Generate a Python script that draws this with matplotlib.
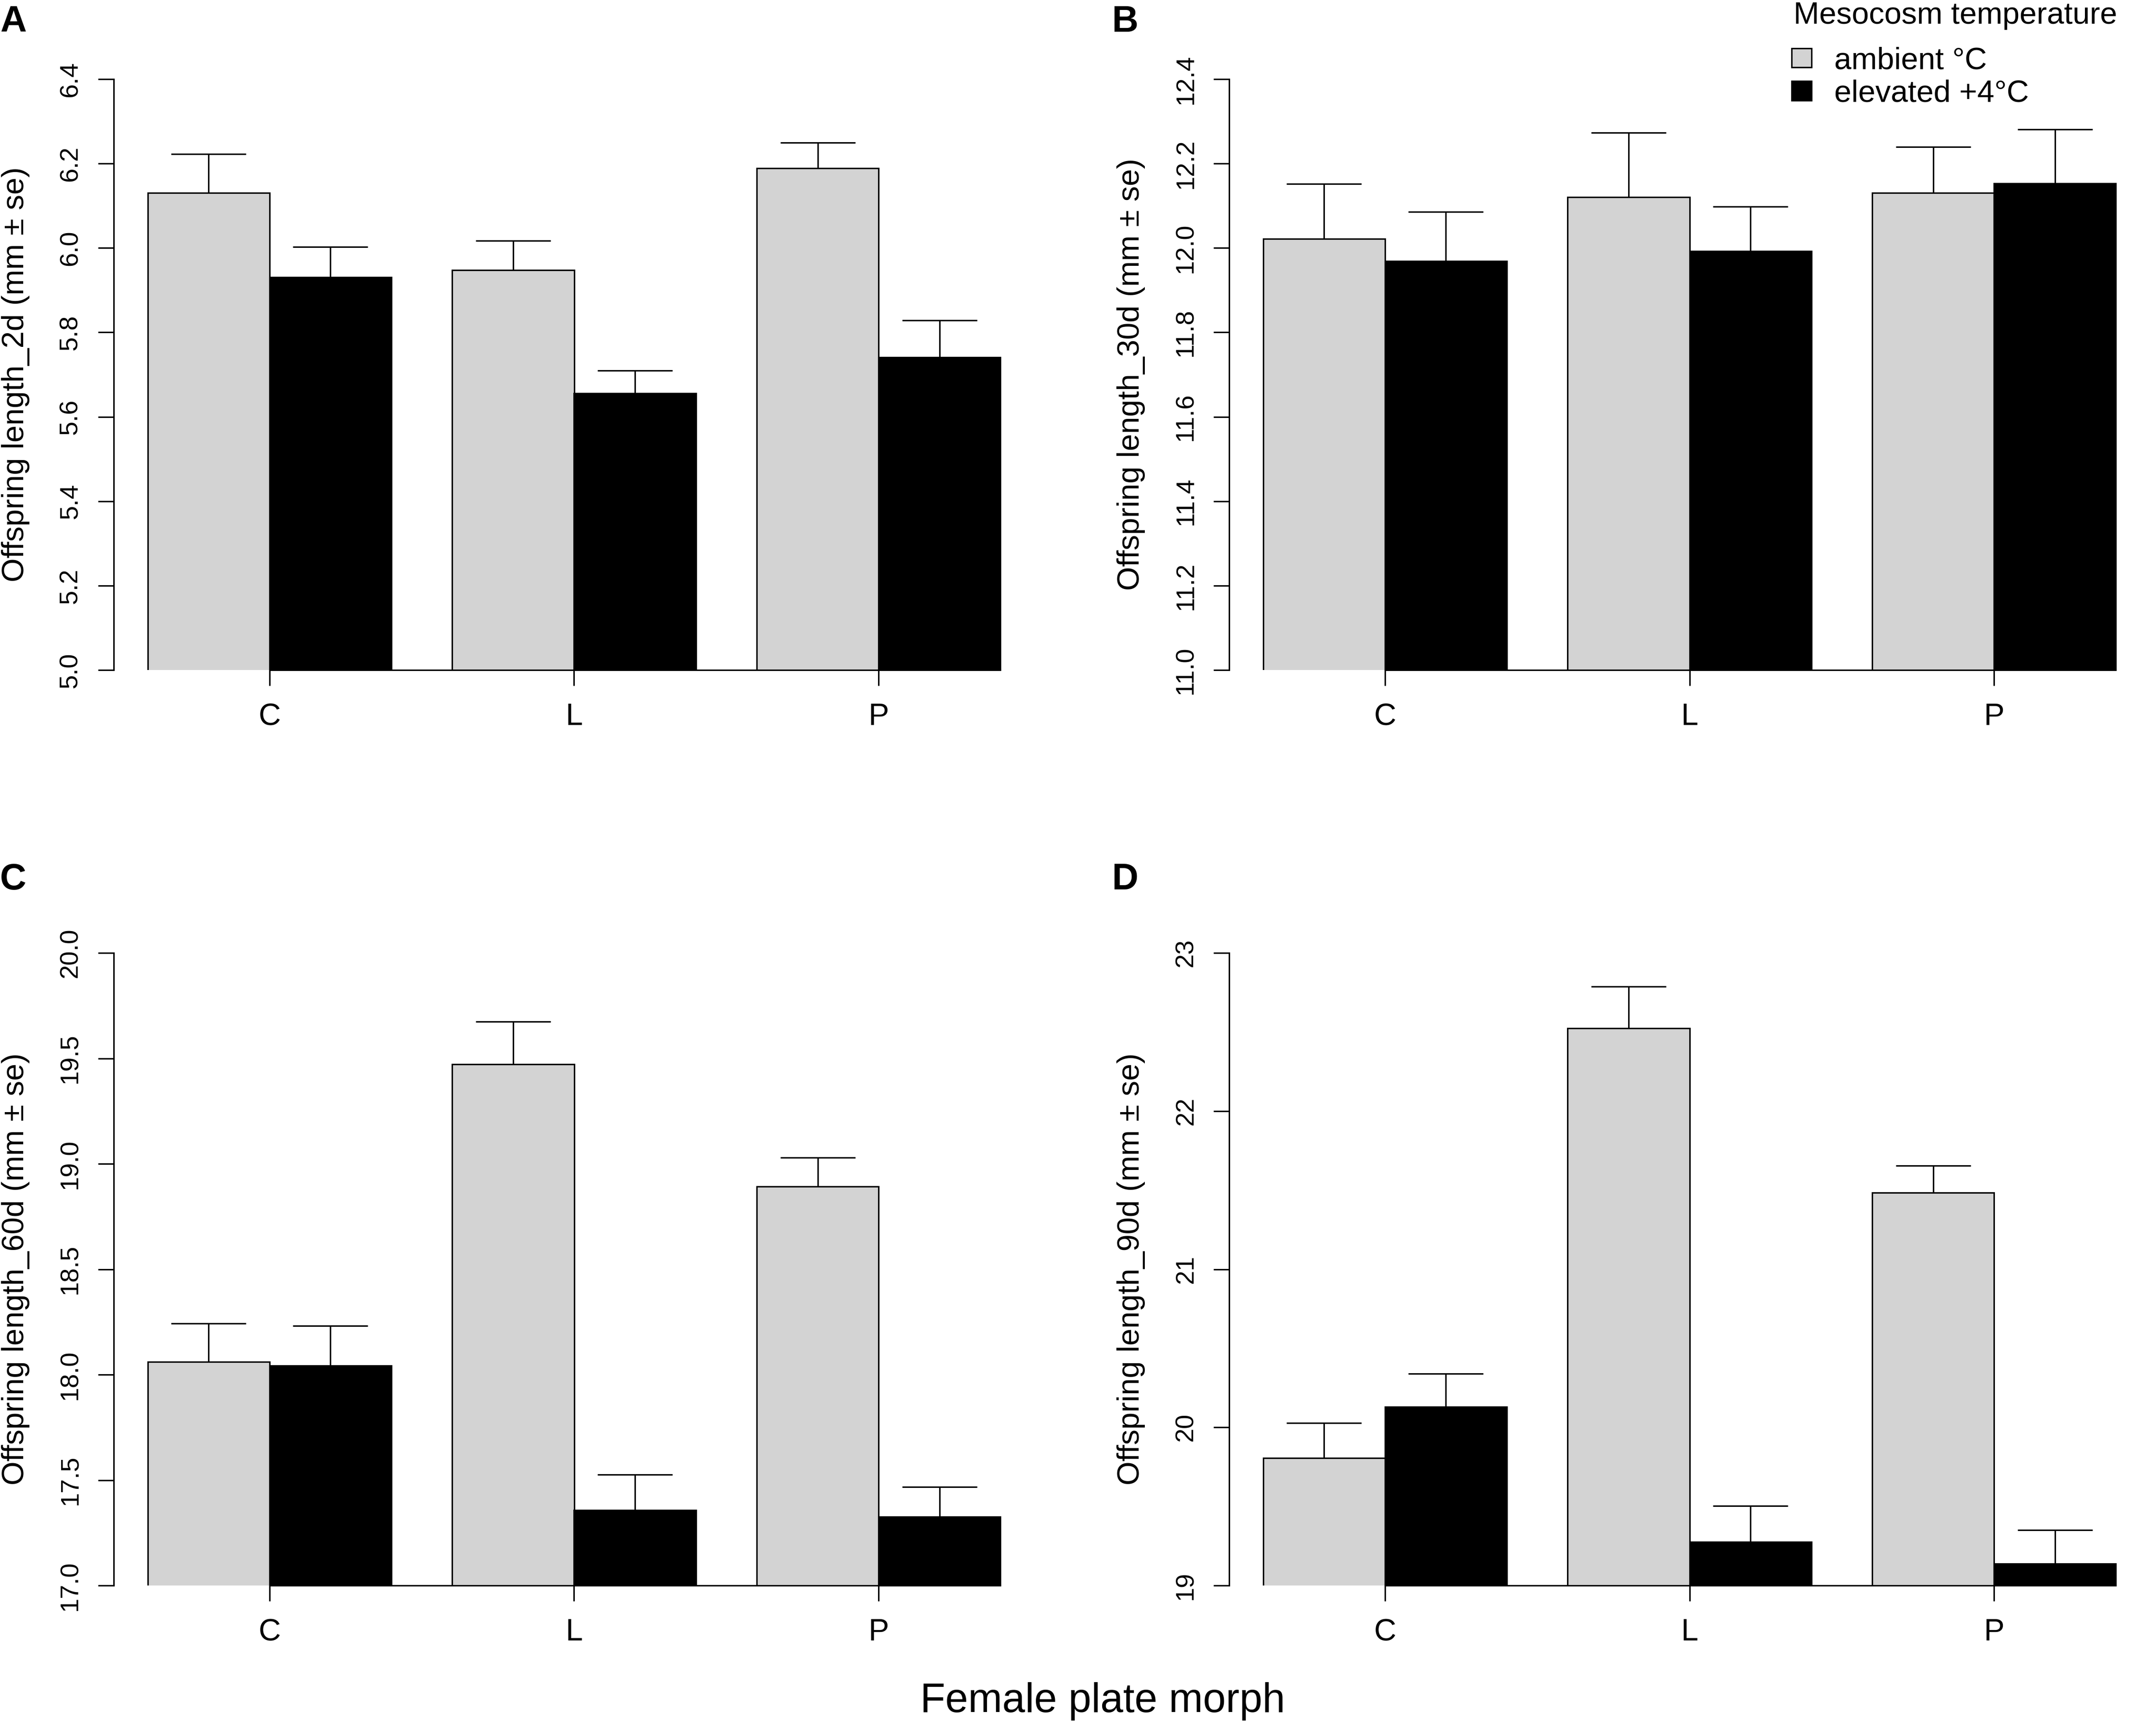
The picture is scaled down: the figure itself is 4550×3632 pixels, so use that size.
import numpy as np
import matplotlib
matplotlib.use("Agg")
import matplotlib.pyplot as plt
from matplotlib.patches import Patch

# ---- data (mean, se) ----
morphs = ["C", "L", "P"]
groups = ["ambient °C", "elevated +4°C"]

amb_2d = [6.131, 5.947, 6.189]
amb_2d_se = [0.092, 0.070, 0.060]
elev_2d = [5.931, 5.656, 5.741]
elev_2d_se = [0.072, 0.054, 0.088]

amb_30d = [12.022, 12.121, 12.131]
amb_30d_se = [0.130, 0.152, 0.108]
elev_30d = [11.969, 11.993, 12.153]
elev_30d_se = [0.117, 0.105, 0.128]

amb_60d = [18.061, 19.471, 18.892]
amb_60d_se = [0.181, 0.203, 0.137]
elev_60d = [18.042, 17.358, 17.326]
elev_60d_se = [0.190, 0.168, 0.142]

amb_90d = [19.807, 22.523, 21.484]
amb_90d_se = [0.221, 0.263, 0.172]
elev_90d = [20.130, 19.277, 19.137]
elev_90d_se = [0.210, 0.225, 0.214]

W, H, DPI = 4550, 3632, 300
plt.rcParams["font.family"] = ["Liberation Sans", "DejaVu Sans"]

fig = plt.figure(figsize=(W / DPI, H / DPI), dpi=DPI)


def px(x0, y0, x1, y1):
    # pixel box (top-left origin) -> figure fraction rect
    return [x0 / W, 1 - y1 / H, (x1 - x0) / W, (y1 - y0) / H]


AXW = 1943
panels = [
    (px(240, 167, 240 + AXW, 1414), amb_2d, amb_2d_se, elev_2d, elev_2d_se,
     (5.0, 6.4), np.arange(5.0, 6.41, 0.2), "{:.1f}", "Offspring length_2d (mm ± se)"),
    (px(2594, 167, 2594 + AXW, 1414), amb_30d, amb_30d_se, elev_30d, elev_30d_se,
     (11.0, 12.4), np.arange(11.0, 12.41, 0.2), "{:.1f}", "Offspring length_30d (mm ± se)"),
    (px(240, 2011, 240 + AXW, 3346), amb_60d, amb_60d_se, elev_60d, elev_60d_se,
     (17.0, 20.0), np.arange(17.0, 20.01, 0.5), "{:.1f}", "Offspring length_60d (mm ± se)"),
    (px(2594, 2011, 2594 + AXW, 3346), amb_90d, amb_90d_se, elev_90d, elev_90d_se,
     (19, 23), np.arange(19, 23.1, 1), "{:.0f}", "Offspring length_90d (mm ± se)"),
]

# R-style beside barplot, space = c(0, 0.5)
x_amb = np.array([1.0, 3.5, 6.0])
x_elev = x_amb + 1.0
x_tick = x_amb + 0.5
LW = 0.75

for rect, amb, amb_se, elev, elev_se, ylim, yt, fmt, ylab in panels:
    ax = fig.add_axes(rect)
    # bars start at 0 and get clipped by the axes, like R's barplot
    ax.bar(x_amb, amb, width=1.0, color="lightgray", edgecolor="black", linewidth=LW, zorder=2)
    ax.bar(x_elev, elev, width=1.0, color="black", edgecolor="black", linewidth=LW, zorder=2)
    for xs, m, s in ((x_amb, amb, amb_se), (x_elev, elev, elev_se)):
        _, caps, _ = ax.errorbar(xs, m, yerr=[np.zeros(3), s], fmt="none", ecolor="black",
                                 elinewidth=LW, capsize=19, capthick=LW, zorder=3)
        caps[0].set_visible(False)  # upper bars only
    ax.set_xlim(0.22, 7.78)
    ax.set_ylim(*ylim)
    for sp in ("top", "right"):
        ax.spines[sp].set_visible(False)
    ax.spines["left"].set_bounds(yt[0], yt[-1])
    ax.spines["bottom"].set_bounds(x_tick[0], 7.5)
    for sp in ("left", "bottom"):
        ax.spines[sp].set_linewidth(LW)
    ax.set_yticks(yt)
    ax.set_yticklabels([fmt.format(v) for v in yt], rotation=90, va="center")
    ax.set_xticks(x_tick)
    ax.set_xticklabels(morphs, fontsize=15.6)
    ax.tick_params(axis="y", length=8, width=LW, pad=7.9, labelsize=13)
    ax.tick_params(axis="x", length=8, width=LW, pad=8.6)
    ax.set_ylabel(ylab, fontsize=15.6)
    ax.yaxis.set_label_coords(-0.0911, 0.5)
    ax.patch.set_alpha(0)

# panel letters
for letter, (lx, ly) in zip("ABCD", [(0, 67), (2347, 67), (0, 1877), (2347, 1877)]):
    fig.text(lx / W, 1 - ly / H, letter, fontsize=18.5,
             fontweight="bold", va="baseline", ha="left")

fig.text(2327 / W, 1 - 3613 / H, "Female plate morph", fontsize=20.8,
         ha="center", va="baseline")

# legend: title as its own text, entries as a legend below it
fig.text(3785 / W, 1 - 50 / H, "Mesocosm temperature", fontsize=15.6,
         ha="left", va="baseline")
handles = [Patch(facecolor="lightgray", edgecolor="black", linewidth=LW),
           Patch(facecolor="black", edgecolor="black", linewidth=LW)]
fig.legend(handles, groups, loc="upper left",
           bbox_to_anchor=(3781 / W, 1 - 98 / H), frameon=False, borderpad=0,
           borderaxespad=0, handlelength=0.65, handleheight=0.59,
           handletextpad=0.74, labelspacing=0.14, fontsize=15.6)

fig.savefig("out.png", dpi=DPI)
